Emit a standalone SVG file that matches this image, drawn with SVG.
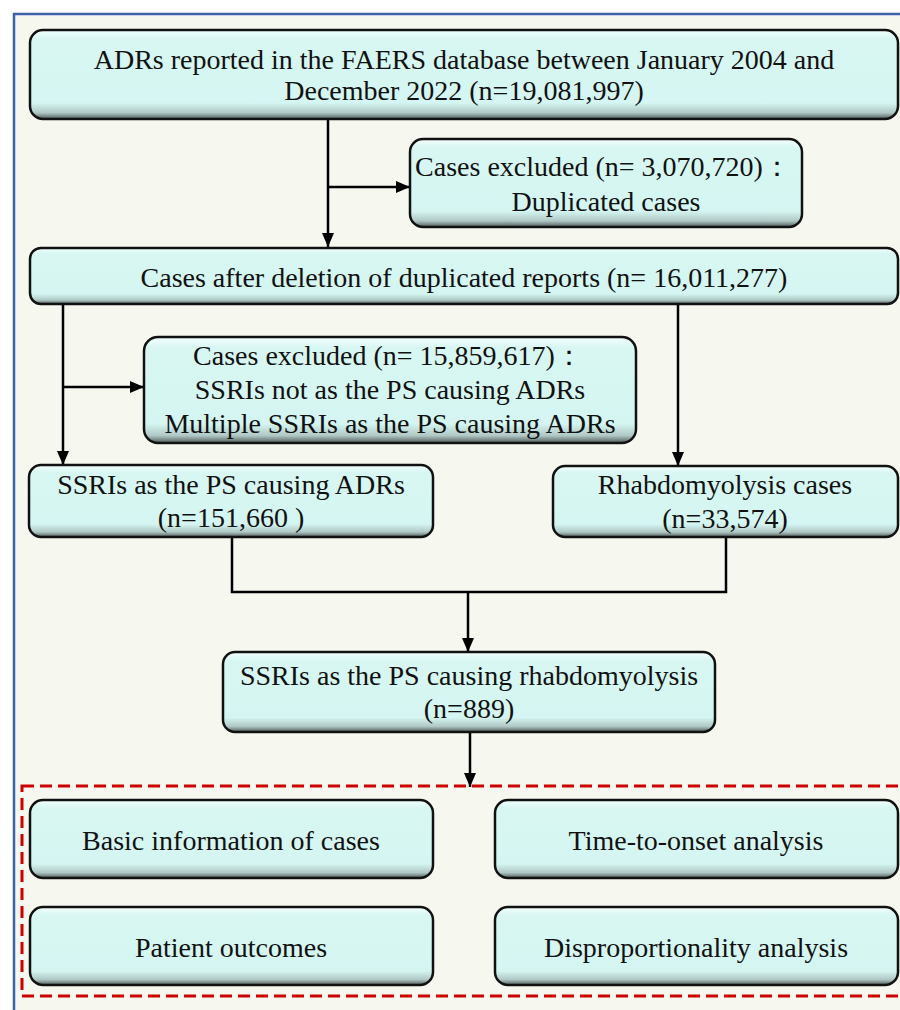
<svg xmlns="http://www.w3.org/2000/svg" width="900" height="1010" viewBox="0 0 900 1010">
<defs>
<linearGradient id="boxfill" x1="0" y1="0" x2="0" y2="1">
<stop offset="0" stop-color="#f4fffe"/>
<stop offset="0.1" stop-color="#d8f7f3"/>
<stop offset="0.82" stop-color="#d4f5f1"/>
<stop offset="0.93" stop-color="#b0c8c5"/>
<stop offset="1" stop-color="#4f5a59"/>
</linearGradient>
<marker id="arrow" viewBox="0 0 14 12" refX="14" refY="6" markerWidth="14" markerHeight="12" markerUnits="userSpaceOnUse" orient="auto">
<path d="M0,0 L14,6 L0,12 Z" fill="#000"/>
</marker>
</defs>
<style>
.box{fill:url(#boxfill);stroke:#111;stroke-width:2.5}
.t{font-family:"Liberation Serif","Times New Roman",serif;font-size:28px;fill:#111;text-anchor:middle}
.c{fill:none;stroke:#000;stroke-width:2.5}
</style>
<rect x="0" y="0" width="900" height="1010" fill="#ffffff"/>
<rect x="14" y="14" width="890" height="1000" fill="#f6f8ef"/>
<path d="M14,1010 L14,14 L900,14" fill="none" stroke="#3e60a8" stroke-width="2.5"/>
<rect x="22" y="786" width="882" height="210" fill="none" stroke="#cc0000" stroke-width="3" stroke-dasharray="12,6"/>

<g id="connectors">
<line class="c" x1="328" y1="119" x2="328" y2="247" marker-end="url(#arrow)"/>
<line class="c" x1="328" y1="187" x2="410" y2="187" marker-end="url(#arrow)"/>
<line class="c" x1="63" y1="304" x2="63" y2="465" marker-end="url(#arrow)"/>
<line class="c" x1="63" y1="387" x2="144" y2="387" marker-end="url(#arrow)"/>
<line class="c" x1="678" y1="304" x2="678" y2="466" marker-end="url(#arrow)"/>
<polyline class="c" points="232,537 232,592 726,592 726,537"/>
<line class="c" x1="468" y1="592" x2="468" y2="652" marker-end="url(#arrow)"/>
<line class="c" x1="470" y1="732" x2="470" y2="787" marker-end="url(#arrow)"/>
</g>

<g id="n1">
<rect class="box" x="30" y="30" width="868" height="89" rx="13"/>
<text class="t" x="464" y="69">ADRs reported in the FAERS database between January 2004 and</text>
<text class="t" x="464" y="100">December 2022 (n=19,081,997)</text>
</g>
<g id="n2">
<rect class="box" x="410" y="139" width="392" height="88" rx="13"/>
<text class="t" x="603" y="176">Cases excluded (n= 3,070,720)：</text>
<text class="t" x="606" y="211">Duplicated cases</text>
</g>
<g id="n3">
<rect class="box" x="30" y="248" width="868" height="56" rx="11"/>
<text class="t" x="464" y="287">Cases after deletion of duplicated reports (n= 16,011,277)</text>
</g>
<g id="n4">
<rect class="box" x="144" y="337" width="492" height="106" rx="14"/>
<text class="t" x="388" y="365">Cases excluded (n= 15,859,617)：</text>
<text class="t" x="390" y="399">SSRIs not as the PS causing ADRs</text>
<text class="t" x="390" y="433">Multiple SSRIs as the PS causing ADRs</text>
</g>
<g id="n5">
<rect class="box" x="29" y="465" width="404" height="72" rx="12"/>
<text class="t" x="231" y="494">SSRIs as the PS causing ADRs</text>
<text class="t" x="231" y="527">(n=151,660 )</text>
</g>
<g id="n6">
<rect class="box" x="553" y="466" width="345" height="71" rx="12"/>
<text class="t" x="725" y="494">Rhabdomyolysis cases</text>
<text class="t" x="725" y="528">(n=33,574)</text>
</g>
<g id="n7">
<rect class="box" x="223" y="652" width="492" height="80" rx="12"/>
<text class="t" x="469" y="685">SSRIs as the PS causing rhabdomyolysis</text>
<text class="t" x="469" y="718">(n=889)</text>
</g>
<g id="n8">
<rect class="box" x="30" y="800" width="403" height="78" rx="13"/>
<text class="t" x="231" y="850">Basic information of cases</text>
</g>
<g id="n9">
<rect class="box" x="495" y="800" width="403" height="78" rx="13"/>
<text class="t" x="696" y="850">Time-to-onset analysis</text>
</g>
<g id="n10">
<rect class="box" x="30" y="907" width="403" height="78" rx="13"/>
<text class="t" x="231" y="957">Patient outcomes</text>
</g>
<g id="n11">
<rect class="box" x="495" y="907" width="403" height="78" rx="13"/>
<text class="t" x="696" y="957">Disproportionality analysis</text>
</g>
</svg>
